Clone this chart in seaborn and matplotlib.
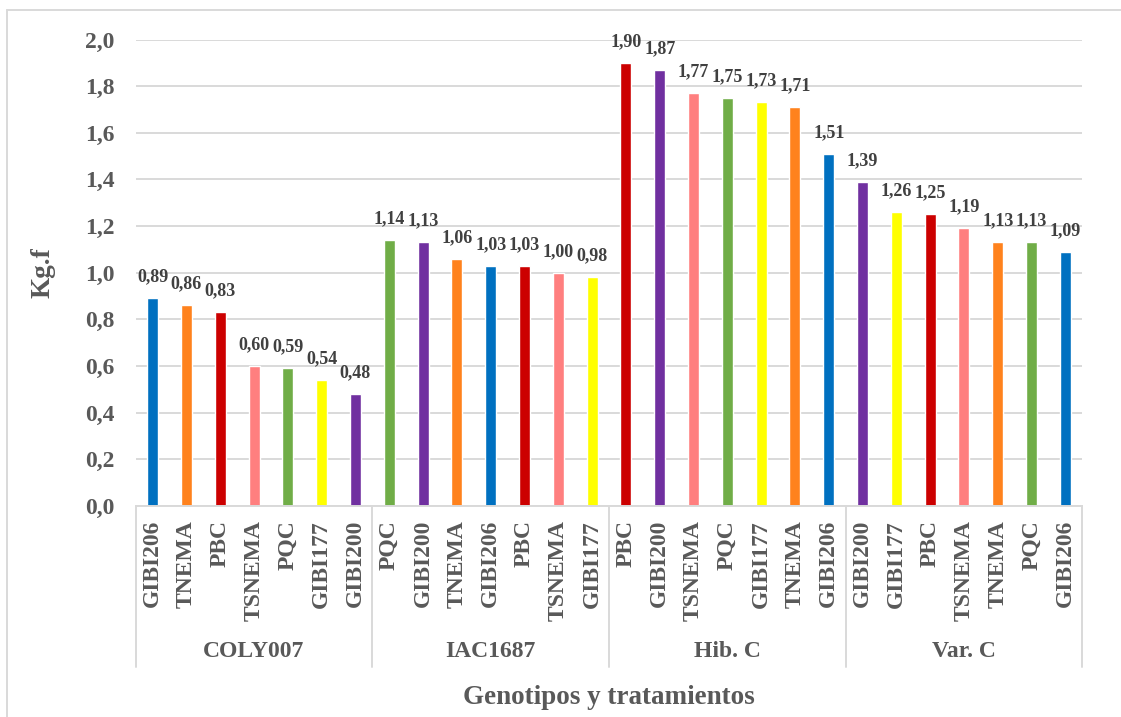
import matplotlib
matplotlib.use("Agg")
import matplotlib.pyplot as plt
import matplotlib.lines as mlines
import matplotlib.transforms as mtransforms
import numpy as np
import pandas as pd
import seaborn as sns

# Genotypes (outer category) and treatments (inner category)
genotipos = ["COLY007", "IAC1687", "Hib. C", "Var. C"]

trat_coly = ["GIBI206", "TNEMA", "PBC", "TSNEMA", "PQC", "GIBI177", "GIBI200"]
vals_coly = [0.89, 0.86, 0.83, 0.60, 0.59, 0.54, 0.48]

trat_iac = ["PQC", "GIBI200", "TNEMA", "GIBI206", "PBC", "TSNEMA", "GIBI177"]
vals_iac = [1.14, 1.13, 1.06, 1.03, 1.03, 1.00, 0.98]

trat_hib = ["PBC", "GIBI200", "TSNEMA", "PQC", "GIBI177", "TNEMA", "GIBI206"]
vals_hib = [1.90, 1.87, 1.77, 1.75, 1.73, 1.71, 1.51]

trat_var = ["GIBI200", "GIBI177", "PBC", "TSNEMA", "TNEMA", "PQC", "GIBI206"]
vals_var = [1.39, 1.26, 1.25, 1.19, 1.13, 1.13, 1.09]

colores = {
    "GIBI206": "#0070C0",
    "TNEMA": "#FF821D",
    "PBC": "#CC0000",
    "TSNEMA": "#FF7F7F",
    "PQC": "#70AD47",
    "GIBI177": "#FFFF00",
    "GIBI200": "#7030A0",
}

y_ticks = [0.0, 0.2, 0.4, 0.6, 0.8, 1.0, 1.2, 1.4, 1.6, 1.8, 2.0]

rows = []
for g, trs, vs in zip(genotipos,
                      [trat_coly, trat_iac, trat_hib, trat_var],
                      [vals_coly, vals_iac, vals_hib, vals_var]):
    for t, v in zip(trs, vs):
        rows.append({"genotipo": g, "tratamiento": t, "valor": v,
                     "clave": f"{g}|{t}"})
df = pd.DataFrame(rows)

sns.set_style("white")
plt.rcParams["font.family"] = ["Liberation Serif", "DejaVu Serif"]
plt.rcParams["font.weight"] = "bold"

W, H = 1121, 717
fig = plt.figure(figsize=(W / 100, H / 100), dpi=100)
left_px, right_px, top_px, bot_px = 135.7, 1082.3, 39.5, 506.0
ax = fig.add_axes([left_px / W, 1 - bot_px / H,
                   (right_px - left_px) / W, (bot_px - top_px) / H])

grid_c = "#D9D9D9"
tick_c = "#595959"
lab_c = "#404040"

sns.barplot(data=df, x="clave", y="valor", hue="tratamiento",
            palette=colores, dodge=False, width=0.325, legend=False,
            saturation=1, ax=ax, order=df["clave"].tolist())

n = len(df)
ax.set_xlim(-0.5, n - 0.5)
ax.set_ylim(0, 2.0)
ax.set_yticks(y_ticks)
ax.set_yticklabels([f"{t:.1f}".replace(".", ",") for t in y_ticks])
ax.set_xticks(np.arange(n))
ax.set_xticklabels(df["tratamiento"], rotation=90, va="top", ha="center")
ax.tick_params(axis="both", length=0, labelsize=17, colors=tick_c)
ax.tick_params(axis="y", pad=15)
ax.tick_params(axis="x", pad=10)
ax.set_xlabel("")
ax.set_ylabel("")

ax.yaxis.grid(True, color=grid_c, lw=1.4)
ax.set_axisbelow(True)
for s in ["left", "right", "top"]:
    ax.spines[s].set_visible(False)
ax.spines["bottom"].set_color(grid_c)
ax.spines["bottom"].set_linewidth(1.4)

# value labels above each bar
for i, v in enumerate(df["valor"]):
    ax.annotate(f"{v:.2f}".replace(".", ","), (i, v), xytext=(0, 12.2),
                textcoords="offset points", ha="center", va="baseline",
                fontsize=13, color=lab_c, fontweight="bold")

# outer category axis: separators and genotype names
trans = mtransforms.blended_transform_factory(ax.transData, ax.transAxes)
ax_h = bot_px - top_px
sep_bottom = -(667 - bot_px) / ax_h
for k in range(len(genotipos) + 1):
    xk = k * 7 - 0.5
    ax.add_line(mlines.Line2D([xk, xk], [0, sep_bottom], transform=trans,
                              color=grid_c, lw=1.4, clip_on=False))
group_y = -(651.5 - bot_px) / ax_h
for k, g in enumerate(genotipos):
    ax.text(k * 7 + 3, group_y, g, transform=trans, ha="center", va="center",
            fontsize=17, color=tick_c, fontweight="bold")

fig.text((left_px + right_px) / 2 / W, 1 - 698 / H, "Genotipos y tratamientos",
         ha="center", va="center", fontsize=19.5, color=tick_c,
         fontweight="bold")
fig.text(43 / W, 1 - 273 / H, "Kg.f", rotation=90, ha="center", va="center",
         fontsize=19.5, color=tick_c, fontweight="bold")

# chart frame
fig.add_artist(mlines.Line2D([7 / W, 1.0], [1 - 10 / H, 1 - 10 / H],
                             transform=fig.transFigure, color=grid_c, lw=1.4))
fig.add_artist(mlines.Line2D([7 / W, 7 / W], [1 - 10 / H, 0.0],
                             transform=fig.transFigure, color=grid_c, lw=1.4))

fig.savefig("out.png", dpi=100, facecolor="white")
